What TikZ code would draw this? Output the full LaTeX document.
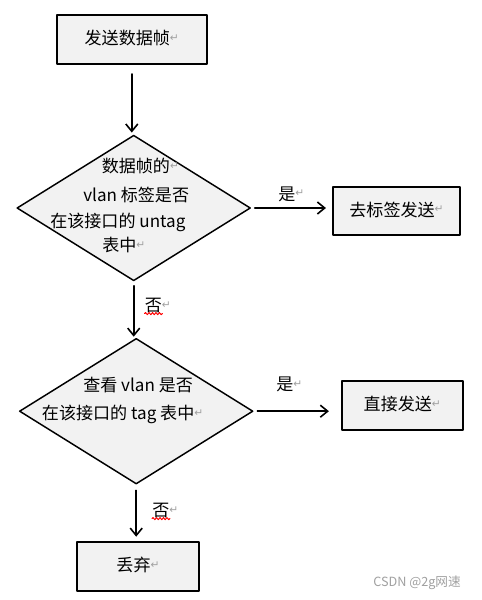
\documentclass[tikz,border=0pt]{standalone}
\usepackage{fontspec}
\newfontfamily\cjk{Noto Sans CJK SC}
\newfontfamily\pmfont{DejaVu Sans}
\usetikzlibrary{shapes.geometric,arrows.meta,decorations.pathmorphing}
\definecolor{boxgray}{HTML}{F2F2F2}
\definecolor{markgray}{HTML}{A0A0A0}
\newcommand\parmark{\raisebox{0.18em}{\pmfont\color{markgray}\fontsize{8}{8}\selectfont ↵}}
\tikzset{
  txt/.style={font=\cjk\fontsize{12.8}{15}\selectfont,inner sep=0pt,text height=0.88em,text depth=0.12em},
  box/.style={txt,draw,line width=1.5pt,fill=boxgray,minimum height=36.5pt},
  decide/.style={diamond,draw,line width=1.1pt,fill=boxgray,inner sep=0pt,outer sep=0pt,
    minimum width=174.75pt,minimum height=108.75pt},
  flow/.style={line width=1.2pt,-{Straight Barb[length=5.5pt,width=9pt,line width=1.2pt]}},
  squiggle/.style={red,line width=0.7pt,decorate,decoration={snake,amplitude=0.8pt,segment length=2.6pt}}
}
\begin{document}
\begin{tikzpicture}[x=0.75pt,y=-0.75pt,line cap=round,line join=round]
  \useasboundingbox (0,0) rectangle (482,600);
  \node[box,minimum width=112.3pt] (send) at (131.8,39.3) {发送数据帧\parmark};
  \node[box,minimum width=95.3pt] (untagged) at (396.5,211) {去标签发送\parmark};
  \node[box,minimum width=91pt] (direct) at (402.3,405.5) {直接发送\parmark};
  \node[box,minimum width=91.5pt] (drop) at (138,566.7) {丢弃\parmark};
  \node[decide] (ask1) at (133.7,208) {};
  \node[decide] (ask2) at (136.2,411.2) {};
  \node[txt,anchor=west] (ask1a) at (101.5,167.7) {数据帧的\parmark};
  \node[txt,anchor=west] (ask1b) at (83,196.7) {vlan 标签是否};
  \node[txt,anchor=west] (ask1c) at (50,222.7) {在该接口的 untag};
  \node[txt,anchor=west] (ask1d) at (102,246.7) {表中\parmark};
  \node[txt,anchor=west] (ask2a) at (83,386.7) {查看 vlan 是否};
  \node[txt,anchor=west] (ask2b) at (41.7,414) {在该接口的 tag 表中\parmark};
  \node[txt,anchor=west] (yes1) at (278,195) {是\parmark};
  \node[txt,anchor=west] (yes2) at (276,385) {是\parmark};
  \node[txt,anchor=west] (no1) at (144.5,306.7) {否\parmark};
  \node[txt,anchor=west] (no2) at (152,511.7) {否\parmark};
  \draw[squiggle] (no1.south west) -- ++(18,0);
  \draw[squiggle] (no2.south west) -- ++(18,0);
  \draw[flow,shorten <=7pt,shorten >=2.2pt] (send.south) -- (send.south |- ask1.north);
  \draw[flow,shorten <=4pt,shorten >=1.5pt] (ask1.south) -- (ask1.south |- ask2.north);
  \draw[flow,shorten <=5pt,shorten >=3.5pt] (ask2.south) -- (ask2.south |- drop.north);
  \draw[flow,shorten <=3.4pt,shorten >=4.5pt] (ask1.east) -- (ask1.east -| untagged.west);
  \draw[flow,shorten <=3.5pt,shorten >=8.8pt] (ask2.east) -- (ask2.east -| direct.west);
  \node[font=\cjk\fontsize{9.5}{11}\selectfont,text=markgray,anchor=west,inner sep=0pt] (mark) at (373,583) {CSDN @2g网速};
\end{tikzpicture}
\end{document}
